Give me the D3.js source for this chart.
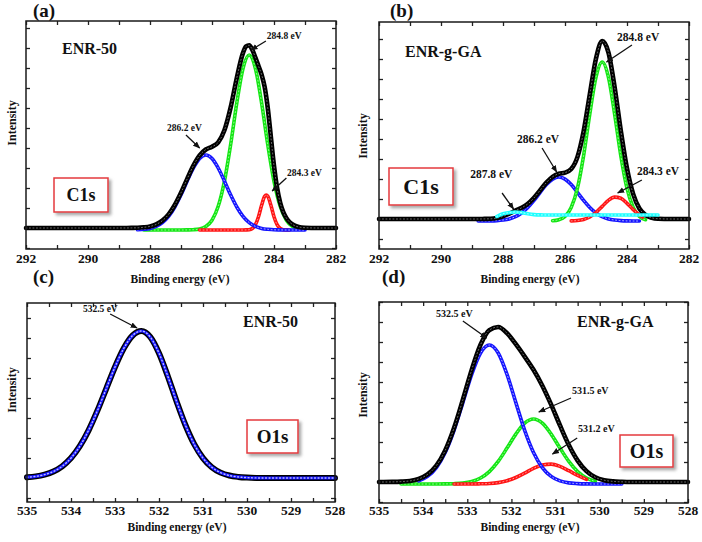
<!DOCTYPE html>
<html>
<head>
<meta charset="utf-8">
<script src="https://cdn.jsdelivr.net/npm/d3@7/dist/d3.min.js"></script>
<style>
html,body{margin:0;padding:0;background:#fff;}
svg{display:block;}
text{font-family:"Liberation Serif","Times New Roman",serif;font-weight:bold;fill:#111;}
</style>
</head>
<body>
<svg id="chart" width="702" height="542"></svg>
<script>
// ================= DATA (binding energy in eV, intensity in a.u.) =================
// (a) ENR-50, C1s
const aTotalE = [292,291,290,289,288.6,288.4,288.2,288.0,287.8,287.6,287.4,287.2,287.0,286.8,286.6,286.4,286.2,286.0,285.8,285.6,285.4,285.2,285.0,284.9,284.8,284.7,284.6,284.5,284.4,284.3,284.2,284.1,284.0,283.9,283.8,283.7,283.6,283.5,283.4,283.2,283.0,282.6,282];
const aTotalI = [0,0,0,0,0.1,0.2,0.7,1.6,3.6,7.4,13.6,23.0,35.2,49.1,62.3,72.5,78.5,81.3,85.7,97.7,120.4,150.1,175.1,181.6,182.7,178.2,170.4,162.0,153.4,140.8,119.6,90.8,62.2,40.0,25.2,15.9,9.9,6.0,3.5,1.0,0.3,0,0];
const aPeak2862E = [288.4,288.2,288.0,287.8,287.6,287.4,287.2,287.0,286.8,286.6,286.4,286.2,286.0,285.8,285.6,285.4,285.2,285.0,284.8,284.6,284.4,284.2,284.0,283.8,283.6,283.4,283.2,283.0];
const aPeak2862I = [0.2,0.7,1.6,3.6,7.4,13.6,23.0,35.2,49.0,62.0,71.5,75,71.5,62.0,49.0,35.2,23.0,13.6,7.4,3.6,1.6,0.7,0.2,0.1,0,0,0,0];
const aPeak2848E = [288.2,287.6,287.0,286.8,286.6,286.4,286.2,286.0,285.8,285.6,285.4,285.2,285.0,284.8,284.6,284.4,284.2,284.0,283.8,283.6,283.4,283.2];
const aPeak2848I = [0,0,0,0.1,0.3,1.0,3.5,9.8,23.7,48.7,85.2,127.1,161.5,175,161.5,127.1,85.2,48.7,23.7,9.8,3.5,1.0];
const aPeak2843E = [286.4,285.6,285.0,284.9,284.8,284.7,284.6,284.5,284.4,284.3,284.25,284.2,284.1,284.0,283.9,283.8,283.7,283.6,283.5];
const aPeak2843I = [0,0,0,0.1,0.3,1.5,5.3,13.3,24.7,33.7,35,33.7,24.7,13.3,5.3,1.5,0.3,0.1,0];
const aFitOffset = -2;

// (b) ENR-g-GA, C1s
const bTotalE = [292,291,290,289.4,289.0,288.8,288.6,288.4,288.2,288.0,287.8,287.6,287.4,287.2,287.0,286.8,286.6,286.4,286.2,286.0,285.8,285.6,285.4,285.2,285.0,284.8,284.6,284.4,284.2,284.0,283.8,283.6,283.4,283.2,283.0,282.6,282];
const bTotalI = [0,0,0,0,0,0,0.1,0.2,0.9,2.6,5.3,8.3,11.2,15.1,21.1,28.8,36.4,42.2,45.3,46.4,50.0,61.9,87.6,124.6,160.5,177.9,166.7,132.0,88.5,50.5,24.9,10.5,3.9,1.2,0.3,0,0];
const bPeak2862E = [288.8,288.6,288.4,288.2,288.0,287.8,287.6,287.4,287.2,287.0,286.8,286.6,286.4,286.2,286.0,285.8,285.6,285.4,285.2,285.0,284.8,284.6,284.4,284.2,284.0,283.8,283.6];
const bPeak2862I = [0,0,0.1,0.4,1.0,2.1,4.3,8.0,13.5,20.6,28.7,36.4,41.9,44,41.9,36.4,28.7,20.6,13.5,8.0,4.3,2.1,1.0,0.4,0.1,0,0];
const bPeak2848E = [286.4,286.2,286.0,285.8,285.6,285.4,285.2,285.0,284.8,284.6,284.4,284.2,284.0,283.8,283.6,283.4];
const bPeak2848I = [0.3,1.3,4.5,13.5,32.7,65.4,107.1,144.0,159,144.0,107.1,65.4,32.7,13.5,4.5,1.3];
const bPeak2843E = [285.8,285.6,285.4,285.2,285.0,284.8,284.6,284.4,284.2,284.0,283.8,283.6,283.5];
const bPeak2843I = [0.1,0.5,1.6,4.0,8.5,14.6,20.6,23.9,22.7,17.7,11.4,6.0,4.0];
const bPeak2878E = [288.2,288.0,287.8,287.6,287.4,287.2,287.0,286.8,286.4,285.0,283.0];
const bPeak2878I = [4.5,7.2,8.4,9.0,8.4,7.2,6.4,6.1,6.0,6.0,6.0];
const bFitOffset = -2;

// (c) ENR-50, O1s
const cTotalE = [535.0,534.8,534.6,534.4,534.2,534.0,533.8,533.6,533.4,533.2,533.0,532.8,532.6,532.4,532.2,532.0,531.8,531.6,531.4,531.2,531.0,530.8,530.6,530.4,530.2,530.0,529.8,529.5,529.0,528.5,528.0];
const cTotalI = [0.8,1.6,3.4,6.5,11.7,19.9,31.8,47.7,67.3,89.2,111.0,129.7,142.5,147,141.1,124.8,101.8,76.5,53.0,33.8,19.9,10.8,5.4,2.5,1.1,0.4,0.1,0,0,0,0];
const cFitI = cTotalI.slice();   // single-peak fit at 532.5 eV overlays the data
const cFitOffset = 0;

// (d) ENR-g-GA, O1s
const dTotalE = [535.0,534.9,534.7,534.5,534.3,534.1,533.9,533.7,533.5,533.3,533.1,532.9,532.7,532.5,532.3,532.1,531.9,531.7,531.5,531.3,531.1,530.9,530.7,530.5,530.3,530.1,529.9,529.7,529.5,529.3,529.1,528.5,528.0];
const dTotalI = [0,0,0.1,0.4,1.1,3.1,7.6,16.4,31.6,54.0,82.3,112.1,137.2,151.9,155.0,148.8,137.8,125.4,112.2,96.3,77.4,56.6,37.0,21.4,10.8,4.7,1.8,0.6,0.2,0,0,0,0];
const dPeak5325E = [534.1,533.9,533.7,533.5,533.3,533.1,532.9,532.7,532.5,532.3,532.1,531.9,531.7,531.5,531.3,531.1,530.9,530.7,530.5,530.3,530.1,529.9,529.7,529.5];
const dPeak5325I = [3.1,7.6,16.4,31.5,53.7,81.4,109.6,131.0,139,131.0,109.6,81.4,53.7,31.5,16.4,7.6,3.1,1.1,0.4,0.1,0,0,0,0];
const dPeak5315E = [534.5,534.3,534.1,533.9,533.7,533.5,533.3,533.1,532.9,532.7,532.5,532.3,532.1,531.9,531.7,531.5,531.3,531.1,530.9,530.7,530.5,530.3,530.1];
const dPeak5315I = [0,0,0,0,0,0.1,0.3,0.9,2.5,6.0,12.4,22.6,35.9,49.9,60.8,65,60.8,49.9,35.9,22.6,12.4,6.0,2.5];
const dPeak5312E = [533.3,533.1,532.9,532.7,532.5,532.3,532.1,531.9,531.7,531.5,531.3,531.1,530.9,530.7,530.5,530.3];
const dPeak5312I = [0,0,0,0.2,0.5,1.4,3.3,6.5,10.9,15.7,19.1,19.9,17.6,13.3,8.6,4.7];
const dFitOffset = -2;

// tick labels
const c1sTickLabels = [292,290,288,286,284,282];
const o1sTickLabels = [535,534,533,532,531,530,529,528];
const xTitle = "Binding energy (eV)";
const yTitle = "Intensity";

// ================= DRAWING =================
const svg = d3.select("#chart");
svg.append("rect").attr("width",702).attr("height",542).attr("fill","#fff");
const defs = svg.append("defs");
defs.append("marker").attr("id","arrow").attr("viewBox","0 0 10 10")
  .attr("refX",9).attr("refY",5).attr("markerWidth",5.5).attr("markerHeight",5.5)
  .attr("orient","auto").append("path").attr("d","M0,1 L10,5 L0,9 z").attr("fill","#111");
const flt = defs.append("filter").attr("id","shadow").attr("x","-20%").attr("y","-20%").attr("width","150%").attr("height","160%");
flt.append("feDropShadow").attr("dx",2.5).attr("dy",2.5).attr("stdDeviation",1.6)
  .attr("flood-color","#8a8a8a").attr("flood-opacity",0.75);

const COLORS = {black:"#000000", blue:"#1414ff", green:"#14e614", red:"#ff1414", cyan:"#1effff"};
const DOTS   = {black:"#8c8c8c", blue:"#d8d8ff", green:"#b8ffb8", red:"#ffb8b8", cyan:"#e6ffff"};

const panels = [
  { tag:"(a)", tagPos:[33,17], frame:{l:26,r:336,t:21,b:249}, xDom:[292,282], yDom:[-21,207],
    minorStep:1, labels:c1sTickLabels, tickLabelY:263, xTitlePos:[180,283], yTitlePos:[16,123],
    sample:"ENR-50", samplePos:[62,54], core:"C1s", coreBox:[54,178,54,34], coreSize:18,
    offset:aFitOffset, annSize:9.5,
    series:[
      {E:aPeak2848E, I:aPeak2848I, c:"green", fit:true},
      {E:aPeak2843E, I:aPeak2843I, c:"red", fit:true},
      {E:aPeak2862E, I:aPeak2862I, c:"blue", fit:true},
      {E:aTotalE, I:aTotalI, c:"black", fit:false}],
    ann:[
      {t:"284.8 eV", at:[284.23,189], from:[284.26,187], to:[284.74,178]},
      {t:"286.2 eV", at:[287.45,97], from:[286.84,93], to:[286.40,80]},
      {t:"284.3 eV", at:[283.58,52], from:[283.60,50], to:[284.06,37]}]},
  { tag:"(b)", tagPos:[390,17], frame:{l:379,r:689,t:22,b:249}, xDom:[292,282], yDom:[-30,197],
    minorStep:1, labels:c1sTickLabels, tickLabelY:263, xTitlePos:[530,283], yTitlePos:[367,136],
    sample:"ENR-g-GA", samplePos:[405,57], core:"C1s", coreBox:[389,168,64,37], coreSize:22,
    offset:bFitOffset, annSize:11.5,
    series:[
      {E:bPeak2862E, I:bPeak2862I, c:"blue", fit:true},
      {E:bPeak2848E, I:bPeak2848I, c:"green", fit:true},
      {E:bPeak2843E, I:bPeak2843I, c:"red", fit:true},
      {E:bTotalE, I:bTotalI, c:"black", fit:false},
      {E:bPeak2878E, I:bPeak2878I, c:"cyan", fit:true}],
    ann:[
      {t:"284.8 eV", at:[284.32,178], from:[283.84,174], to:[284.66,157]},
      {t:"286.2 eV", at:[287.55,76], from:[286.74,71], to:[286.27,47]},
      {t:"287.8 eV", at:[289.06,41], from:[288.03,26], to:[287.66,10]},
      {t:"284.3 eV", at:[283.68,44], from:[283.52,39], to:[284.30,26]}]},
  { tag:"(c)", tagPos:[33,283], frame:{l:27,r:335,t:303,b:502}, xDom:[535,528], yDom:[-24,175],
    minorStep:0.5, labels:o1sTickLabels, tickLabelY:515, xTitlePos:[177,531], yTitlePos:[16,390],
    sample:"ENR-50", samplePos:[243,327], core:"O1s", coreBox:[247,420,51,33], coreSize:19,
    offset:cFitOffset, annSize:9.5,
    series:[
      {E:cTotalE, I:cTotalI, c:"black", fit:false, w:6},
      {E:cTotalE, I:cFitI, c:"blue", fit:true, w:3.2}],
    ann:[
      {t:"532.5 eV", at:[533.73,166], from:[533.11,164], to:[532.50,150]}]},
  { tag:"(d)", tagPos:[382,283], frame:{l:379,r:688,t:302,b:503}, xDom:[535,528], yDom:[-21,180],
    minorStep:0.5, labels:o1sTickLabels, tickLabelY:515, xTitlePos:[530,531], yTitlePos:[367,395],
    sample:"ENR-g-GA", samplePos:[577,327], core:"O1s", coreBox:[620,435,53,32], coreSize:20,
    offset:dFitOffset, annSize:10,
    series:[
      {E:dPeak5315E, I:dPeak5315I, c:"green", fit:true},
      {E:dPeak5312E, I:dPeak5312I, c:"red", fit:true},
      {E:dPeak5325E, I:dPeak5325I, c:"blue", fit:true},
      {E:dTotalE, I:dTotalI, c:"black", fit:false}],
    ann:[
      {t:"532.5 eV", at:[533.71,165], from:[533.10,161], to:[532.56,144]},
      {t:"531.5 eV", at:[530.63,88], from:[530.65,84], to:[531.38,70]},
      {t:"531.2 eV", at:[530.49,50], from:[530.51,44], to:[531.07,28]}]}
];

panels.forEach(p => {
  const f = p.frame;
  const x = d3.scaleLinear().domain(p.xDom).range([f.l, f.r]);
  const y = d3.scaleLinear().domain(p.yDom).range([f.b, f.t]);
  const g = svg.append("g");

  // axes (inward ticks on all four sides)
  const minor = d3.range(p.xDom[0], p.xDom[1] - p.minorStep/2, -p.minorStep);
  const axB = d3.axisBottom(x).tickValues(minor).tickSize(-4).tickSizeOuter(0).tickFormat("");
  const axT = d3.axisTop(x).tickValues(minor).tickSize(-4).tickSizeOuter(0).tickFormat("");
  const yt = y.ticks(10);
  const axL = d3.axisLeft(y).tickValues(yt).tickSize(-4).tickSizeOuter(0).tickFormat("");
  const axR = d3.axisRight(y).tickValues(yt).tickSize(-4).tickSizeOuter(0).tickFormat("");
  [[axB,`translate(0,${f.b})`],[axT,`translate(0,${f.t})`],[axL,`translate(${f.l},0)`],[axR,`translate(${f.r},0)`]]
    .forEach(([ax,tr]) => {
      const a = g.append("g").attr("transform",tr).call(ax);
      a.select(".domain").remove();
      a.selectAll("line").attr("stroke","#222").attr("stroke-width",1.3);
    });

  // series
  const sg = g.append("g");
  p.series.forEach(s => {
    const off = s.fit ? p.offset : 0;
    const pts = s.E.map((e,i) => [e, s.I[i] + off]);
    const line = d3.line().x(d => x(d[0])).y(d => y(d[1])).curve(d3.curveMonotoneX);
    const w = s.w || (s.c === "black" ? 4.6 : 3.6);
    sg.append("path").attr("d", line(pts)).attr("fill","none")
      .attr("stroke", COLORS[s.c]).attr("stroke-width", w)
      .attr("stroke-linejoin","round").attr("stroke-linecap","round");
    sg.append("path").attr("d", line(pts)).attr("fill","none")
      .attr("stroke", DOTS[s.c]).attr("stroke-width", s.c === "blue" && p.tag === "(c)" ? 1.4 : 1.0)
      .attr("stroke-dasharray","0.9 2.6").attr("stroke-linecap","round").attr("opacity",0.85);
  });

  // frame
  g.append("rect").attr("x",f.l).attr("y",f.t).attr("width",f.r-f.l).attr("height",f.b-f.t)
    .attr("fill","none").attr("stroke","#1a1a1a").attr("stroke-width",1.5);

  // tick labels
  g.selectAll(null).data(p.labels).enter().append("text")
    .attr("x", d => x(d)).attr("y", p.tickLabelY).attr("text-anchor","middle")
    .attr("font-size",13.5).text(d => d);

  // titles
  g.append("text").attr("x",p.xTitlePos[0]).attr("y",p.xTitlePos[1]).attr("text-anchor","middle")
    .attr("font-size",11.5).text(xTitle);
  g.append("text").attr("transform",`translate(${p.yTitlePos[0]},${p.yTitlePos[1]}) rotate(-90)`)
    .attr("text-anchor","middle").attr("font-size",12).text(yTitle);
  g.append("text").attr("x",p.tagPos[0]).attr("y",p.tagPos[1]).attr("font-size",19).text(p.tag);
  g.append("text").attr("x",p.samplePos[0]).attr("y",p.samplePos[1]).attr("font-size",16).text(p.sample);

  // core-level box
  const [bx,by,bw,bh] = p.coreBox;
  g.append("rect").attr("x",bx).attr("y",by).attr("width",bw).attr("height",bh)
    .attr("fill","#fff").attr("stroke","#e5393d").attr("stroke-width",1.5).attr("filter","url(#shadow)");
  g.append("text").attr("x",bx+bw/2).attr("y",by+bh/2+p.coreSize*0.33).attr("text-anchor","middle")
    .attr("font-size",p.coreSize).text(p.core);

  // annotations
  p.ann.forEach(a => {
    g.append("line").attr("x1",x(a.from[0])).attr("y1",y(a.from[1]))
      .attr("x2",x(a.to[0])).attr("y2",y(a.to[1]))
      .attr("stroke","#111").attr("stroke-width",1.3).attr("marker-end","url(#arrow)");
    g.append("text").attr("x",x(a.at[0])).attr("y",y(a.at[1])).attr("font-size",p.annSize).text(a.t);
  });
});
</script>
</body>
</html>
